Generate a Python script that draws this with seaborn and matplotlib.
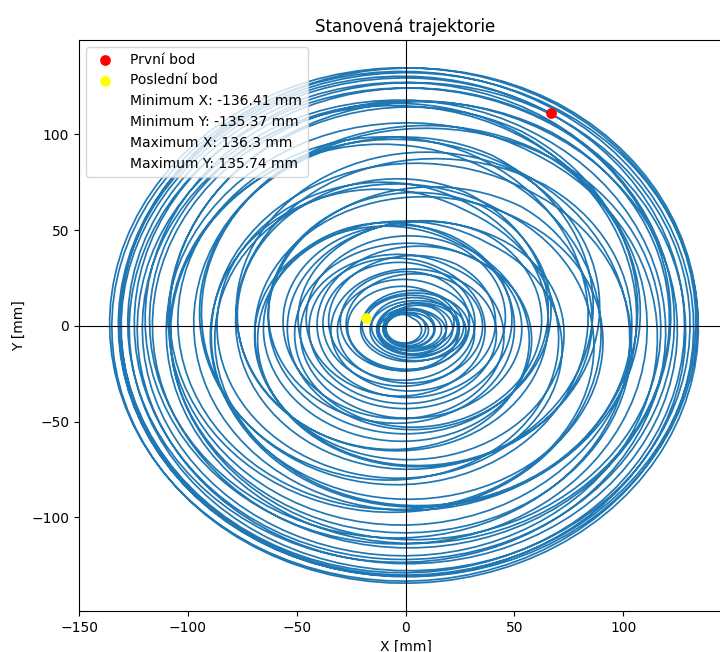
import numpy as np
import pandas as pd
import matplotlib
matplotlib.use('Agg')
import matplotlib.pyplot as plt
import seaborn as sns

# Loops of the trajectory (mm): half-widths, half-heights, centres
LOOP_RX = [129, 135, 134, 134, 132, 130, 129, 127, 125, 123, 121, 119, 117, 115, 113, 111,
           109, 107, 104, 102, 99, 97, 94, 92, 89, 87, 84, 82, 79, 77, 74, 72, 69, 67,
           64, 62, 59, 57, 54, 52, 49, 47, 44, 42, 39, 37, 35, 33, 31, 29, 27,
           25, 24, 22, 20, 19, 17, 16, 14, 13, 12, 11, 10, 9, 8, 22]
LOOP_RY = [129, 133, 134, 133, 132, 130, 128, 126, 124, 122, 120, 118, 116, 114, 112, 110,
           107, 105, 102, 100, 97, 94, 92, 89, 86, 84, 81, 78, 76, 73, 70, 68, 65, 63,
           60, 58, 55, 53, 50, 48, 45, 43, 40, 38, 35, 33, 31, 29, 27, 25, 23,
           19, 18, 16, 15, 14, 13, 12, 11, 10, 10, 9, 8, 8, 7, 16]
LOOP_CX = [1, -1, -2, 1, 2, -3, 0, 4, -3, -4, 5, 2, -8, 2, 9, -8,
           -6, 13, 0, -15, 8, 11, -15, -4, 18, -5, -16, 13, 9, -16, 0, 16, -8, -11,
           12, 3, -12, 3, 9, -6, -4, 8, 0, -7, 4, 4, -5, -1, 5, -1, -3,
           5, 2, 6, 3, 6, 4, 2, 5, 3, 1, 2, 0, 0, -1, 3]
LOOP_CY = [0, 2, -1, -1, 3, 1, -4, 1, 4, -4, -3, 7, 0, -9, 5, 8,
           -10, -3, 14, -4, -14, 11, 9, -16, 0, 17, -9, -13, 16, 4, -17, 4, 14, -11,
           -7, 13, 0, -11, 5, 6, -8, -2, 8, -2, -6, 4, 3, -5, 0, 4, -2,
           -2, 1, -3, 0, -2, -1, -3, 0, -2, -1, -2, -2, -1, -2, 0]
START_DEG = 59    # angle of the first point on the first loop
END_DEG = 165     # angle of the last point on the last loop

FIRST_PT = (67, 111)
LAST_PT = (-18, 4)
STATS = ['Minimum X: -136.41 mm', 'Minimum Y: -135.37 mm',
         'Maximum X: 136.3 mm', 'Maximum Y: 135.74 mm']
X_RANGE = (-136.41, 136.3)
Y_RANGE = (-135.37, 135.74)

# trace the loops one after another, blending each loop into the next
xs, ys = [], []
n_loops = len(LOOP_RX)
for k in range(n_loops - 1):
    t = np.linspace(0, 1, 90, endpoint=False)
    a = np.deg2rad(START_DEG) + 2 * np.pi * (k + t)
    rx = LOOP_RX[k] + (LOOP_RX[k + 1] - LOOP_RX[k]) * t
    ry = LOOP_RY[k] + (LOOP_RY[k + 1] - LOOP_RY[k]) * t
    cx = LOOP_CX[k] + (LOOP_CX[k + 1] - LOOP_CX[k]) * t
    cy = LOOP_CY[k] + (LOOP_CY[k + 1] - LOOP_CY[k]) * t
    xs.append(cx + rx * np.cos(a))
    ys.append(cy + ry * np.sin(a))
# last partial loop
a = np.deg2rad(np.linspace(START_DEG, END_DEG, 30))
xs.append(LOOP_CX[-1] + LOOP_RX[-1] * np.cos(a))
ys.append(LOOP_CY[-1] + LOOP_RY[-1] * np.sin(a))
traj = pd.DataFrame({'x': np.concatenate(xs), 'y': np.concatenate(ys)})

fig = plt.figure(figsize=(7.2, 6.52), dpi=100)
ax = fig.add_axes([79 / 720, 41 / 652, 653 / 720, 571 / 652])

sns.lineplot(data=traj, x='x', y='y', sort=False, estimator=None, ax=ax,
             color='#1f77b4', linewidth=1.25)
ax.axhline(0, color='black', linewidth=0.8)
ax.axvline(0, color='black', linewidth=0.8)
ax.scatter(*FIRST_PT, color='red', s=45, zorder=5, label='První bod')
ax.scatter(*LAST_PT, color='yellow', s=45, zorder=5, label='Poslední bod')
for s in STATS:
    ax.plot([], [], ' ', label=s)

# default 5 % margins around the recorded extremes
mx = 0.05 * (X_RANGE[1] - X_RANGE[0])
my = 0.05 * (Y_RANGE[1] - Y_RANGE[0])
ax.set_xlim(X_RANGE[0] - mx, X_RANGE[1] + mx)
ax.set_ylim(Y_RANGE[0] - my, Y_RANGE[1] + my)
ax.set_title('Stanovená trajektorie')
ax.set_xlabel('X [mm]')
ax.set_ylabel('Y [mm]')
ax.legend(loc='upper left')

fig.savefig('out.png', dpi=100)
